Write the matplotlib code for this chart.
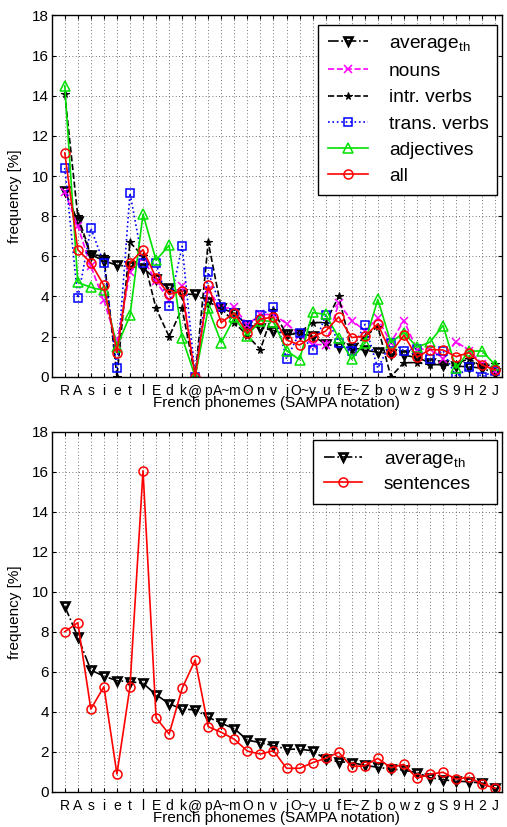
import matplotlib
matplotlib.use("Agg")
import matplotlib.pyplot as plt
import numpy as np

phonemes = ['R', 'A', 's', 'i', 'e', 't', 'l', 'E', 'd', 'k', '@', 'p', 'A~', 'm', 'O', 'n', 'v',
            'j', 'O~', 'y', 'u', 'f', 'E~', 'Z', 'b', 'o', 'w', 'z', 'g', 'S', '9', 'H', '2', 'J']

average_th = [9.27, 7.75, 6.08, 5.78, 5.55, 5.5, 5.42, 4.85, 4.4, 4.12, 4.1, 3.72, 3.42, 3.15,
              2.58, 2.45, 2.3, 2.13, 2.12, 2.05, 1.62, 1.5, 1.45, 1.32, 1.22, 1.13, 1.08, 0.95,
              0.7, 0.6, 0.52, 0.5, 0.42, 0.18]
nouns = [9.2, 7.5, 5.5, 3.8, 1.7, 5.2, 5.9, 4.75, 3.8, 4.5, 0.0, 4.3, 3.4, 3.45, 2.6, 3.1, 3.1,
         2.65, 2.1, 1.6, 1.6, 3.65, 2.8, 2.3, 2.9, 1.7, 2.8, 1.35, 1.4, 0.9, 1.75, 1.3, 0.65, 0.3]
intr_verbs = [14.1, 8.0, 6.1, 6.0, 0.0, 6.7, 6.0, 3.4, 2.0, 3.4, 0.0, 6.7, 3.4, 2.7, 2.05, 1.35,
              3.3, 2.1, 2.2, 2.7, 2.7, 4.0, 1.35, 2.0, 2.5, 0.0, 0.7, 0.7, 0.6, 0.6, 0.65, 0.9,
              0.5, 0.65]
trans_verbs = [10.4, 3.9, 7.4, 5.65, 0.45, 9.15, 5.65, 5.65, 3.5, 6.5, 0.0, 5.2, 3.45, 3.15, 2.6,
               3.05, 3.47, 0.87, 2.2, 1.35, 3.05, 1.7, 1.3, 2.6, 0.42, 1.7, 1.3, 1.4, 0.87, 1.3,
               0.0, 0.47, 0.0, 0.3]
adjectives = [14.5, 4.7, 4.45, 4.3, 1.5, 3.05, 8.1, 5.8, 6.55, 1.95, 0.0, 3.4, 1.7, 2.95, 2.05,
              2.8, 2.75, 1.3, 0.85, 3.2, 3.1, 1.95, 0.87, 1.68, 3.85, 1.7, 2.2, 1.47, 1.72, 2.55,
              0.42, 1.28, 1.28, 0.58]
all_words = [11.15, 6.33, 5.67, 4.55, 1.2, 5.67, 6.33, 4.93, 4.1, 4.27, 0.0, 4.55, 2.7, 3.18,
             2.17, 2.87, 2.97, 1.83, 1.58, 1.98, 2.27, 2.98, 1.95, 2.02, 2.63, 1.18, 2.08, 0.97,
             1.35, 1.33, 1.0, 1.2, 0.58, 0.33]
sentences = [8.0, 8.45, 4.13, 5.25, 0.88, 5.25, 16.05, 3.7, 2.88, 5.17, 6.58, 3.25, 2.97, 2.62,
             2.03, 1.88, 2.05, 1.17, 1.17, 1.45, 1.67, 1.97, 1.25, 1.3, 1.67, 1.2, 1.37, 0.67,
             0.88, 0.97, 0.63, 0.72, 0.38, 0.17]

plt.rcParams['font.family'] = ['Liberation Sans', 'DejaVu Sans']
plt.rcParams['mathtext.fontset'] = 'custom'
plt.rcParams['mathtext.rm'] = 'Liberation Sans'

x = np.arange(1, len(phonemes) + 1)
fig = plt.figure(figsize=(5.07, 8.27), dpi=100)
ax1 = fig.add_axes([0.102, 0.5445, 0.8876, 0.4368])
ax2 = fig.add_axes([0.102, 0.0427, 0.8876, 0.4353])

AVG_LABEL = r'average$_{\rm th}$'
green = '#00e000'

def style_axes(ax):
    ax.set_xlim(0, 34.5)
    ax.set_ylim(0, 18)
    ax.set_yticks(np.arange(0, 19, 2))
    ax.set_xticks(x)
    ax.set_xticklabels(phonemes, fontsize=10)
    ax.tick_params(axis='y', labelsize=11)
    ax.tick_params(direction='in', top=True, right=True, length=3, width=0.8, pad=2)
    ax.tick_params(axis='x', pad=5)
    ax.grid(True, linestyle=(0, (1, 3)), color='#444444', linewidth=0.6)
    ax.set_axisbelow(True)
    for s in ax.spines.values():
        s.set_linewidth(1.0)
    ax.set_ylabel('frequency [%]', fontsize=11, labelpad=7)
    ax.set_xlabel('French phonemes (SAMPA notation)', fontsize=11, labelpad=-1)

ms = 5.5
mew = 1.1
lw = 1.2
avg_kw = dict(linestyle='-.', color='black', marker='v', markersize=ms,
              markerfacecolor='none', markeredgewidth=1.9, linewidth=lw, label=AVG_LABEL)
ax1.plot(x, average_th, **avg_kw)
ax1.plot(x, nouns, linestyle='--', color='#ff00ff', marker='x', markersize=ms,
         markeredgewidth=mew, linewidth=lw, label='nouns')
ax1.plot(x, intr_verbs, linestyle='--', color='black', marker='*', markersize=ms,
         markeredgewidth=0.8, linewidth=lw, label='intr. verbs')
ax1.plot(x, trans_verbs, linestyle=':', color='#0000ff', marker='s', markersize=ms,
         markerfacecolor='none', markeredgewidth=mew, linewidth=lw, label='trans. verbs')
ax1.plot(x, adjectives, linestyle='-', color=green, marker='^', markersize=ms + 1,
         markerfacecolor='none', markeredgewidth=mew, linewidth=lw, label='adjectives')
ax1.plot(x, all_words, linestyle='-', color='red', marker='o', markersize=ms + 1,
         markerfacecolor='none', markeredgewidth=mew, linewidth=lw, label='all')
style_axes(ax1)
leg1 = ax1.legend(loc='upper right', fontsize=13.8, handlelength=2.1, handletextpad=1.1,
                  labelspacing=0.46, borderpad=0.5, borderaxespad=0, fancybox=False,
                  edgecolor='black', framealpha=1, mode='expand',
                  bbox_to_anchor=(0.5918, 0.5, 0.398, 0.4737))
leg1.get_frame().set_linewidth(1.0)

ax2.plot(x, average_th, **avg_kw)
ax2.plot(x, sentences, linestyle='-', color='red', marker='o', markersize=ms + 1,
         markerfacecolor='none', markeredgewidth=mew, linewidth=lw, label='sentences')
style_axes(ax2)
leg2 = ax2.legend(loc='upper right', fontsize=13.8, handlelength=2.0, handletextpad=1.15,
                  labelspacing=0.3, borderpad=0.55, borderaxespad=0, fancybox=False,
                  edgecolor='black', framealpha=1, mode='expand',
                  bbox_to_anchor=(0.5807, 0.5, 0.409, 0.477))
leg2.get_frame().set_linewidth(1.0)

fig.savefig('out.png', dpi=100)
